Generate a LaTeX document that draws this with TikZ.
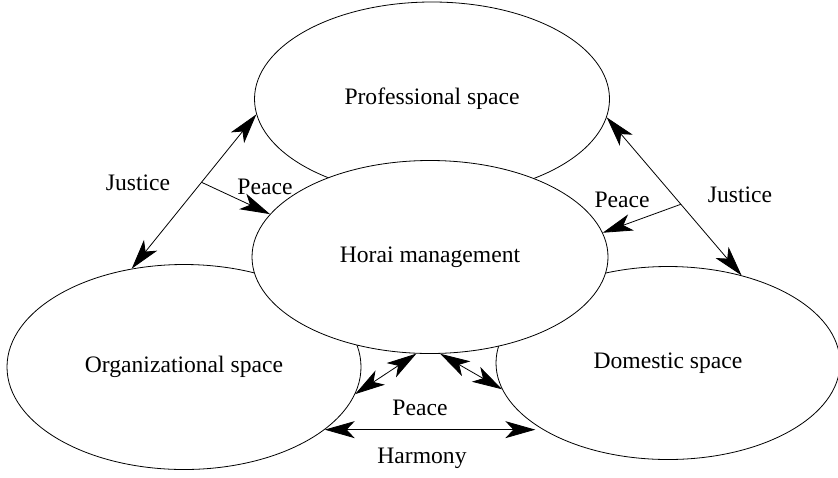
\documentclass[tikz,border=0pt]{standalone}
\usepackage{fontspec}
\setmainfont{Liberation Serif}
\usetikzlibrary{shapes.geometric,arrows.meta}

\tikzset{
    space/.style={draw,ellipse,inner sep=0pt,font=\fontsize{11.8}{14}\selectfont},
    lbl/.style={inner sep=1pt,font=\fontsize{11.8}{14}\selectfont},
}

\begin{document}
\begin{tikzpicture}[x=0.5pt,y=-0.5pt,>={Stealth[length=15pt,width=8.5pt,inset=4pt]}]
    \useasboundingbox (0,0) rectangle (838,477);
    % the three spaces
    \node[space,minimum width=177.5pt,minimum height=97pt] (prof) at (432,99) {Professional space};
    \node[space,minimum width=177pt,minimum height=102.5pt] (org) at (184,367) {Organizational space};
    \node[space,minimum width=172pt,minimum height=96.5pt] (dom) at (668,363) {Domestic space};
    % management on top
    \node[space,fill=white,minimum width=178pt,minimum height=96.5pt] (horai) at (430,257) {Horai management};

    % justice
    \draw[<->] (org.118) -- coordinate[pos=0.56] (jl) (prof.185);
    \draw[<->] (prof.354) -- coordinate[pos=0.55] (jr) (dom.50);
    \draw[->] (jl) -- (horai.165);
    \draw[->] (jr) -- (horai.8);

    % peace and harmony below
    \draw[<->] (org.351) -- (horai.262);
    \draw[<->] (horai.276) -- (dom.189);
    \draw[<->] (org.336) -- (org.336 -| dom.205);

    \node[lbl] (justL) at (138,183) {Justice};
    \node[lbl] (peaceL) at (265,187) {Peace};
    \node[lbl] (peaceR) at (622,200) {Peace};
    \node[lbl] (justR) at (740,195) {Justice};
    \node[lbl] (peaceB) at (420,408) {Peace};
    \node[lbl] (harm) at (422,458) {Harmony};
\end{tikzpicture}
\end{document}
